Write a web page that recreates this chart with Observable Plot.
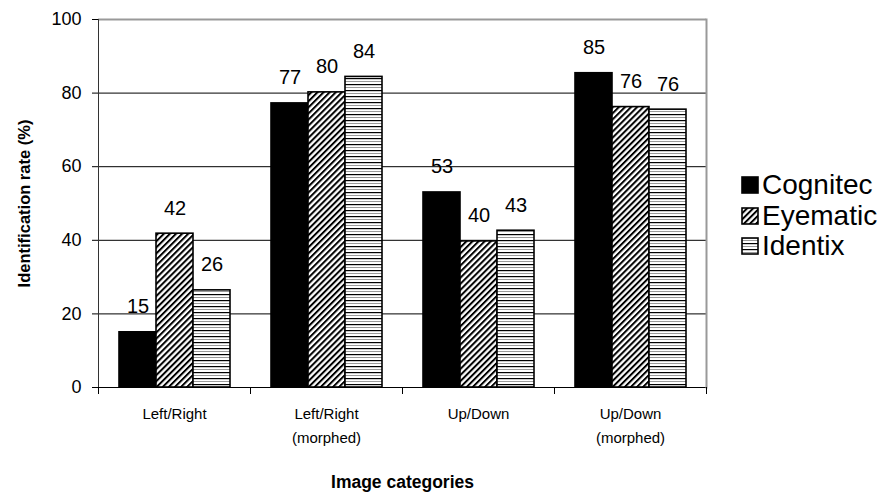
<!DOCTYPE html>
<html>
<head>
<meta charset="utf-8">
<script src="https://cdn.jsdelivr.net/npm/d3@7"></script>
<script src="https://cdn.jsdelivr.net/npm/@observablehq/plot@0.6"></script>
<style>
  body { margin: 0; background: #fff; font-family: "Liberation Sans", Arial, sans-serif; }
  #wrap { position: relative; width: 889px; height: 496px; overflow: hidden; }
  #legend { position: absolute; left: 741px; top: 170px; font-size: 28px; color: #000; }
  #legend .row { display: flex; align-items: center; height: 30.5px; white-space: nowrap; }
  #legend svg { margin-right: 3px; }
</style>
</head>
<body>
<div id="wrap"><div id="legend"></div></div>
<script>
const categories = ["Left/Right", "Left/Right\n(morphed)", "Up/Down", "Up/Down\n(morphed)"];
const seriesNames = ["Cognitec", "Eyematic", "Identix"];
const cognitec = [15, 77.2, 53, 85.4];
const eyematic = [41.8, 80.2, 39.7, 76.2];
const identix  = [26.4, 84.4, 42.6, 75.5];
const yTicks = [0, 20, 40, 60, 80, 100];
const fills = ["black", "url(#diag)", "url(#hstripe)"];

const seriesValues = [cognitec, eyematic, identix];
const data = [];
categories.forEach((c, i) => seriesNames.forEach((s, j) => data.push({category: c, series: s, value: seriesValues[j][i]})));

const W = 889, H = 496, mL = 97, mR = 183, mT = 19, mB = 109;
const plotH = H - mT - mB;

const chart = Plot.plot({
  width: W, height: H,
  marginLeft: mL, marginRight: mR, marginTop: mT, marginBottom: mB,
  style: {fontFamily: "Liberation Sans, Arial, sans-serif", color: "black", background: "white"},
  fx: {domain: categories, padding: 0},
  x: {domain: seriesNames, paddingInner: 0, paddingOuter: 0.55, axis: null},
  y: {domain: [0, 100]},
  color: {domain: seriesNames, range: fills},
  marks: [
    Plot.gridY({ticks: [20, 40, 60, 80], stroke: "black", strokeOpacity: 1}),
    Plot.barY(data, {fx: "category", x: "series", y: "value", fill: "series", stroke: "black", strokeWidth: 1.6}),
    Plot.ruleY([0], {stroke: "black", strokeWidth: 1}),
    Plot.ruleY([100], {stroke: "#999", strokeWidth: 2}),
    Plot.frame({facet: "super", anchor: "right", stroke: "#999", strokeWidth: 2}),
    Plot.frame({facet: "super", anchor: "left", stroke: "#333", strokeWidth: 1}),
    Plot.frame({anchor: "left", insetTop: plotH, insetBottom: -6, stroke: "black"}),
    Plot.frame({facet: "super", anchor: "right", insetTop: plotH, insetBottom: -6, stroke: "black"}),
    Plot.text(data, {fx: "category", x: "series", y: "value", text: d => d3.format(".0f")(d.value), lineAnchor: "bottom", dy: -19, fontSize: 20}),
    Plot.axisY({ticks: yTicks, tickSize: 6, tickPadding: 11, fontSize: 18, label: "Identification rate (%)", labelArrow: "none", labelAnchor: "center", labelOffset: 80}),
    Plot.axisFx({anchor: "bottom", tickSize: 0, tickPadding: 14, fontSize: 15, lineHeight: 1.6, label: "Image categories", labelAnchor: "center", labelOffset: 100})
  ]
});

const svg = d3.select(chart);
svg.selectAll("[aria-label='y-axis label'] text").style("font-weight", "bold").style("font-size", "16.5px");
svg.selectAll("[aria-label='fx-axis label'] text").style("font-weight", "bold").style("font-size", "17.5px");
const defs = svg.insert("defs", ":first-child");
const diag = defs.append("pattern").attr("id", "diag").attr("patternUnits", "userSpaceOnUse")
  .attr("width", 4.3).attr("height", 4.3).attr("patternTransform", "rotate(45)");
diag.append("rect").attr("width", 4.3).attr("height", 4.3).attr("fill", "white");
diag.append("rect").attr("width", 2).attr("height", 4.3).attr("fill", "black");
const hs = defs.append("pattern").attr("id", "hstripe").attr("patternUnits", "userSpaceOnUse")
  .attr("width", 8).attr("height", 6);
hs.append("rect").attr("width", 8).attr("height", 6).attr("fill", "white");
hs.append("rect").attr("y", 0).attr("width", 8).attr("height", 1.2).attr("fill", "black");
hs.append("rect").attr("y", 3).attr("width", 8).attr("height", 1).attr("fill", "#9a9a9a");

const wrap = document.getElementById("wrap");
wrap.insertBefore(chart, wrap.firstChild);

const legend = d3.select("#legend");
seriesNames.forEach((s, i) => {
  const row = legend.append("div").attr("class", "row");
  const sw = row.append("svg").attr("width", 18).attr("height", 18);
  sw.append("rect").attr("x", 1).attr("y", 1).attr("width", 16).attr("height", 16)
    .attr("fill", fills[i]).attr("stroke", "black").attr("stroke-width", 1.6);
  row.append("span").text(s);
});
</script>
</body>
</html>
